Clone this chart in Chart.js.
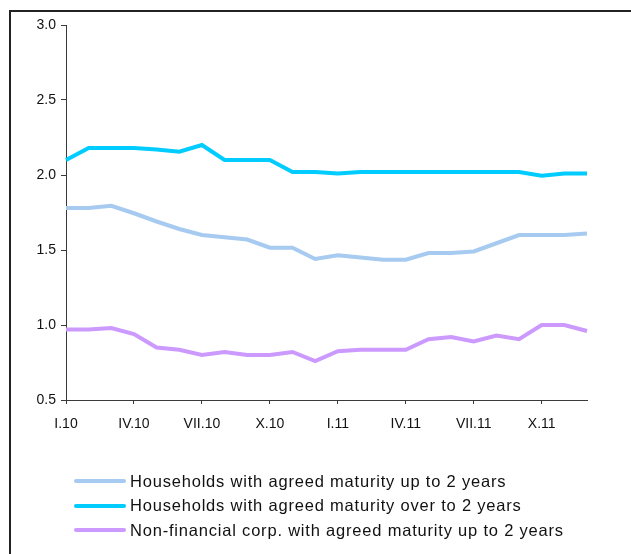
<!DOCTYPE html>
<html>
<head>
<meta charset="utf-8">
<script src="https://cdn.jsdelivr.net/npm/chart.js@4/dist/chart.umd.min.js"></script>
<style>
	html, body { margin: 0; padding: 0; background: #fff; }
	#wrap { position: relative; width: 631px; height: 554px; overflow: hidden; font-family: "Liberation Sans", Arial, sans-serif; }
	#frame { position: absolute; left: 9px; top: 10px; width: 640px; height: 560px; border-left: 2px solid #222; border-top: 2px solid #222; }
	#chart { position: absolute; left: 0; top: 0; }
	#legend { position: absolute; left: 74px; top: 469px; }
	.item { display: flex; align-items: center; height: 24.5px; font-size: 16.5px; letter-spacing: 0.8px; color: #111; white-space: nowrap; }
	.swatch { width: 52px; height: 4px; border-radius: 2px; margin-right: 4px; }
</style>
</head>
<body>
<div id="wrap">
	<div id="frame"></div>
	<canvas id="chart" width="631" height="554"></canvas>
	<div id="legend"></div>
</div>
<script>
// ----------------------------------------------
// Data
// ----------------------------------------------
const MONTHS = [
	"I.10", "II.10", "III.10", "IV.10", "V.10", "VI.10", "VII.10", "VIII.10", "IX.10", "X.10", "XI.10", "XII.10",
	"I.11", "II.11", "III.11", "IV.11", "V.11", "VI.11", "VII.11", "VIII.11", "IX.11", "X.11", "XI.11", "XII.11",
];
const HH_UP_TO_2Y = [
	1.78, 1.78, 1.795, 1.745, 1.69, 1.64, 1.60, 1.585, 1.57, 1.515, 1.515, 1.44,
	1.465, 1.45, 1.435, 1.435, 1.48, 1.48, 1.49, 1.545, 1.60, 1.60, 1.60, 1.61,
];
const HH_OVER_2Y = [
	2.10, 2.18, 2.18, 2.18, 2.17, 2.155, 2.20, 2.10, 2.10, 2.10, 2.02, 2.02,
	2.01, 2.02, 2.02, 2.02, 2.02, 2.02, 2.02, 2.02, 2.02, 1.995, 2.01, 2.01,
];
const NFC_UP_TO_2Y = [
	0.97, 0.97, 0.98, 0.94, 0.85, 0.835, 0.80, 0.82, 0.80, 0.80, 0.82, 0.76,
	0.825, 0.835, 0.835, 0.835, 0.905, 0.92, 0.89, 0.93, 0.905, 1.00, 1.00, 0.96,
];
const Y_TICKS = [0.5, 1.0, 1.5, 2.0, 2.5, 3.0];

const COLORS = {
	lightBlue: "#a6caf0",
	cyan: "#00ccff",
	lilac: "#cc99ff",
	axis: "#3a3a3a",
	text: "#111",
};
const FONT = { family: "'Liberation Sans', Arial, sans-serif", size: 14 };

const line = (label, data, color) => ({
	label,
	data,
	borderColor: color,
	backgroundColor: color,
	borderWidth: 4,
	pointRadius: 0,
	tension: 0,
	fill: false,
});

const CHART_DATA = {
	labels: MONTHS,
	datasets: [
		line("Households with agreed maturity up to 2 years", HH_UP_TO_2Y, COLORS.lightBlue),
		line("Households with agreed maturity over to 2 years", HH_OVER_2Y, COLORS.cyan),
		line("Non-financial corp. with agreed maturity up to 2 years", NFC_UP_TO_2Y, COLORS.lilac),
	],
};

const CHART_CONFIG = {
	type: "line",
	data: CHART_DATA,
	options: {
		responsive: false,
		animation: false,
		layout: {
			padding: { left: 10, top: 25, right: 44, bottom: 124 },
		},
		plugins: {
			legend: { display: false },
			title: { display: false },
			tooltip: { enabled: false },
		},
		scales: {
			x: {
				offset: false,
				border: { display: true, color: COLORS.axis, width: 1 },
				grid: {
					drawOnChartArea: false,
					drawTicks: true,
					tickLength: 4,
					tickColor: (ctx) => (ctx.index % 3 === 0 ? COLORS.axis : "transparent"),
				},
				ticks: {
					autoSkip: false,
					maxRotation: 0,
					padding: 12,
					color: COLORS.text,
					font: FONT,
					callback: (value, index) => (index % 3 === 0 ? MONTHS[index] : ""),
				},
				afterFit: (scale) => { scale.height = 30; },
			},
			y: {
				min: 0.5,
				max: 3.0,
				border: { display: true, color: COLORS.axis, width: 1 },
				grid: {
					drawOnChartArea: false,
					drawTicks: true,
					tickLength: 5,
					tickColor: COLORS.axis,
				},
				afterBuildTicks: (scale) => {
					scale.ticks = Y_TICKS.map((v) => ({ value: v }));
				},
				ticks: {
					padding: 5,
					color: COLORS.text,
					font: FONT,
					callback: (value) => Number(value).toFixed(1),
				},
				afterFit: (scale) => { scale.width = 56; },
			},
		},
	},
};

const chart = new Chart(document.getElementById("chart"), CHART_CONFIG);

// Legend (one entry per row, left aligned)
const LEGEND = document.getElementById("legend");
chart.data.datasets.forEach((ds) => {
	const row = document.createElement("div");
	row.className = "item";
	const sw = document.createElement("span");
	sw.className = "swatch";
	sw.style.background = ds.borderColor;
	const txt = document.createElement("span");
	txt.textContent = ds.label;
	row.appendChild(sw);
	row.appendChild(txt);
	LEGEND.appendChild(row);
});
</script>
</body>
</html>
